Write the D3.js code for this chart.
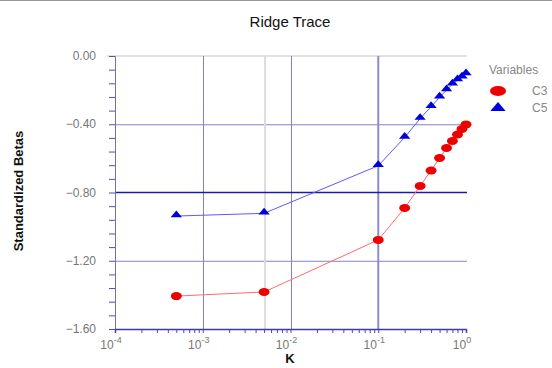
<!DOCTYPE html>
<html>
<head>
<meta charset="utf-8">
<script src="https://cdn.jsdelivr.net/npm/d3@7"></script>
<style>
  body { margin: 0; background: #fff; }
  svg { display: block; font-family: "Liberation Sans", Arial, sans-serif; }
</style>
</head>
<body>
<div id="chart"></div>
<script>
// ridge trace values
var kValues = [0.0005, 0.005, 0.1, 0.2, 0.3, 0.4, 0.5, 0.6, 0.7, 0.8, 0.9, 1.0];
var c3Betas = [-1.407, -1.383, -1.078, -0.891, -0.762, -0.671, -0.598, -0.539, -0.498, -0.460, -0.428, -0.401];
var c5Betas = [-0.938, -0.922, -0.643, -0.477, -0.367, -0.297, -0.242, -0.199, -0.166, -0.141, -0.125, -0.105];
var seriesNames = ["C3", "C5"];
var yTickValues = [0, -0.4, -0.8, -1.2, -1.6];
var xExponents = [-4, -3, -2, -1, 0];

var width = 552, height = 368;
var margin = {top: 56, right: 86, bottom: 39, left: 115};

var svg = d3.select("#chart").append("svg")
    .attr("width", width)
    .attr("height", height);

// top frame edge
svg.append("line")
    .attr("x1", 0).attr("x2", width)
    .attr("y1", 0.5).attr("y2", 0.5)
    .style("stroke", "#999");

var xScale = d3.scaleLog()
    .domain([1e-4, 1])
    .range([margin.left, width - margin.right]);
var yScale = d3.scaleLinear()
    .domain([-1.6, 0])
    .range([height - margin.bottom, margin.top]);

var x0 = xScale.range()[0], x1 = xScale.range()[1];
var yTop = yScale(0), yBot = yScale(-1.6);

// gridlines
svg.append("line")
    .attr("x1", x0 - 8).attr("x2", x1 + 1)
    .attr("y1", yTop).attr("y2", yTop)
    .style("stroke", "#c4c4c4");

[-0.4, -1.2].forEach(function(v){
    svg.append("line")
        .attr("x1", x0).attr("x2", x1 + 1)
        .attr("y1", yScale(v) + 0.5).attr("y2", yScale(v) + 0.5)
        .style("stroke", "#8484c4");
});

[1e-3, 1e-2].forEach(function(v){
    svg.append("line")
        .attr("x1", Math.round(xScale(v)) + 0.5).attr("x2", Math.round(xScale(v)) + 0.5)
        .attr("y1", yTop).attr("y2", yBot)
        .style("stroke", "#8080c8");
});

// light reference line at the second K
svg.append("line")
    .attr("x1", xScale(kValues[1]) + 1).attr("x2", xScale(kValues[1]) + 1)
    .attr("y1", yTop).attr("y2", yBot)
    .style("stroke", "#dcdcdc")
    .style("stroke-width", 2);

svg.append("line")
    .attr("x1", xScale(0.1)).attr("x2", xScale(0.1))
    .attr("y1", yTop).attr("y2", yBot)
    .style("stroke", "#8c8cd4")
    .style("stroke-width", 2);

svg.append("line")
    .attr("x1", x0).attr("x2", x1 + 1)
    .attr("y1", yScale(-0.8)).attr("y2", yScale(-0.8))
    .style("stroke", "#1c1ca0")
    .style("stroke-width", 1.5);

// y axis
var yAxis = svg.append("g")
    .attr("transform", "translate(" + x0 + ",0)")
    .call(d3.axisLeft(yScale)
        .tickValues(d3.range(0, 21).map(function(i){ return -i * 0.08; }))
        .tickSize(6)
        .tickFormat(""));
yAxis.select(".domain").style("stroke", "#7070b8");
yAxis.selectAll(".tick line").style("stroke", "#5050a8");

svg.selectAll(".ylab")
    .data(yTickValues)
    .enter().append("text")
    .attr("x", 96)
    .attr("y", function(d){ return yScale(d) + 4; })
    .attr("text-anchor", "end")
    .style("font-size", "12px")
    .style("fill", "#777")
    .text(function(d){ return d3.format(".2f")(d); });

// x axis
var minorTicks = [];
for (var e = -4; e < 0; e++) {
    for (var m = 1; m < 10; m++) minorTicks.push(m * Math.pow(10, e));
}
minorTicks.push(1);
var xAxis = svg.append("g")
    .attr("transform", "translate(0," + yBot + ")")
    .call(d3.axisBottom(xScale)
        .tickValues(minorTicks)
        .tickSize(4)
        .tickFormat(""));
xAxis.select(".domain").style("stroke", "#3a3aa0").style("stroke-width", 1.5);
xAxis.selectAll(".tick line").style("stroke", "#4848b0");

var xl = svg.selectAll(".xlab")
    .data(xExponents)
    .enter().append("text")
    .attr("x", function(d){ return xScale(Math.pow(10, d)) - 4; })
    .attr("y", yBot + 20)
    .attr("text-anchor", "middle")
    .style("font-size", "12px")
    .style("fill", "#777");
xl.append("tspan").text("10");
xl.append("tspan")
    .attr("dy", -6)
    .style("font-size", "9px")
    .text(function(d){ return d; });

// series lines
var line = d3.line()
    .x(function(d){ return xScale(d[0]); })
    .y(function(d){ return yScale(d[1]); });

var c3Points = kValues.map(function(k, i){ return [k, c3Betas[i]]; });
var c5Points = kValues.map(function(k, i){ return [k, c5Betas[i]]; });

svg.append("path")
    .datum(c3Points)
    .attr("d", line)
    .style("fill", "none")
    .style("stroke", "#ff6a6a")
    .style("stroke-width", 1);

svg.append("path")
    .datum(c5Points)
    .attr("d", line)
    .style("fill", "none")
    .style("stroke", "#5a5aff")
    .style("stroke-width", 1);

// markers
svg.selectAll(".c3dot")
    .data(c3Points)
    .enter().append("ellipse")
    .attr("cx", function(d){ return xScale(d[0]); })
    .attr("cy", function(d){ return yScale(d[1]); })
    .attr("rx", 5.5)
    .attr("ry", 4)
    .style("fill", "#ee0000");

var tri = d3.symbol().type(d3.symbolTriangle).size(36);
svg.selectAll(".c5dot")
    .data(c5Points)
    .enter().append("path")
    .attr("d", tri)
    .attr("transform", function(d){
        return "translate(" + xScale(d[0]) + "," + (yScale(d[1]) - 1) + ") scale(1.25,0.85)";
    })
    .style("fill", "#0000dd");

// title and axis labels
svg.append("text")
    .attr("x", 290)
    .attr("y", 27)
    .attr("text-anchor", "middle")
    .style("font-size", "15px")
    .style("fill", "#111")
    .text("Ridge Trace");

svg.append("text")
    .attr("transform", "translate(23,191) rotate(-90)")
    .attr("text-anchor", "middle")
    .style("font-size", "13px")
    .style("font-weight", "bold")
    .style("fill", "#111")
    .text("Standardized Betas");

svg.append("text")
    .attr("x", 290)
    .attr("y", 363)
    .attr("text-anchor", "middle")
    .style("font-size", "13px")
    .style("font-weight", "bold")
    .style("fill", "#111")
    .text("K");

// legend
svg.append("text")
    .attr("x", 489)
    .attr("y", 74)
    .style("font-size", "12px")
    .style("fill", "#888")
    .text("Variables");

svg.append("ellipse")
    .attr("cx", 498).attr("cy", 91)
    .attr("rx", 8).attr("ry", 5)
    .style("fill", "#ee0000");
svg.append("path")
    .attr("d", d3.symbol().type(d3.symbolTriangle).size(60))
    .attr("transform", "translate(498,108) scale(1.3,0.9)")
    .style("fill", "#0000dd");

svg.selectAll(".legtext")
    .data(seriesNames)
    .enter().append("text")
    .attr("x", 532)
    .attr("y", function(d, i){ return 95 + i * 17; })
    .style("font-size", "12px")
    .style("fill", "#888")
    .text(function(d){ return d; });
</script>
</body>
</html>
